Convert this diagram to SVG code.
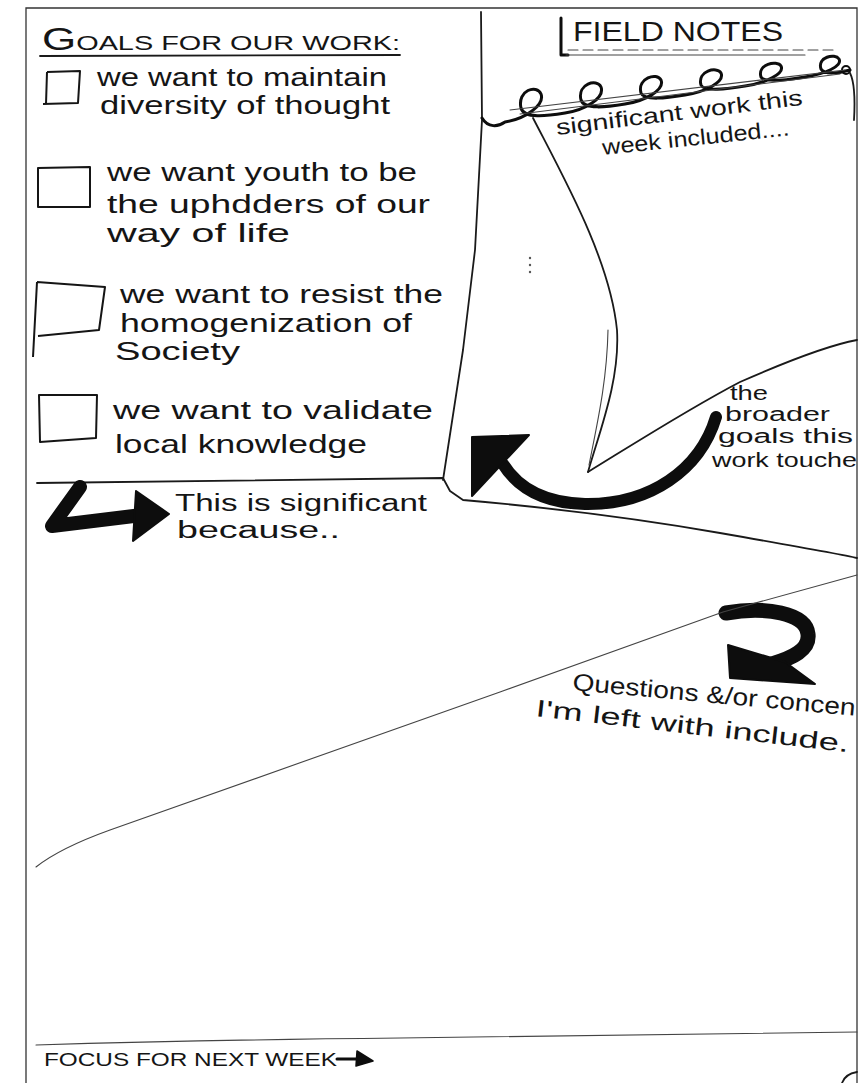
<svg xmlns="http://www.w3.org/2000/svg" width="862" height="1083" viewBox="0 0 862 1083">
<style>
  .hand { font-family: "Liberation Sans", "DejaVu Sans", sans-serif; fill: #151515; }
  .line { fill: none; stroke: #1a1a1a; stroke-width: 1.8; stroke-linecap: round; stroke-linejoin: round; }
  .thin { fill: none; stroke: #444; stroke-width: 1.1; stroke-linecap: round; }
  .frame { fill: none; stroke: #333; stroke-width: 1.3; }
  .ink { fill: #0d0d0d; stroke: #0d0d0d; stroke-linejoin: round; }
  .fat { fill: none; stroke: #0d0d0d; stroke-linecap: round; stroke-linejoin: round; }
  .box { fill: none; stroke: #151515; stroke-width: 2; stroke-linejoin: round; }
</style>
<rect width="862" height="1083" fill="#ffffff"/>

<!-- page frame -->
<path class="frame" d="M26,1083 L26,8 L857,8 L857,1083"/>

<g id="goals">
  <text class="hand" x="42" y="50" font-size="21" textLength="358" lengthAdjust="spacingAndGlyphs"><tspan font-size="32">G</tspan>OALS FOR OUR WORK:</text>
  <path class="line" d="M40,56 L400,55"/>
  <path class="box" d="M47,72 L80,71 L78,103 L43,104 M47,72 L46,104"/>
  <text class="hand" x="97" y="86" font-size="26" textLength="290" lengthAdjust="spacingAndGlyphs">we want to maintain</text>
  <text class="hand" x="100" y="114" font-size="26" textLength="290" lengthAdjust="spacingAndGlyphs">diversity of thought</text>
  <path class="box" d="M38,168 L90,167 L90,207 L38,207 Z"/>
  <text class="hand" x="107" y="181" font-size="26" textLength="310" lengthAdjust="spacingAndGlyphs">we want youth to be</text>
  <text class="hand" x="107" y="213" font-size="26" textLength="323" lengthAdjust="spacingAndGlyphs">the uphdders of our</text>
  <text class="hand" x="107" y="242" font-size="26" textLength="183" lengthAdjust="spacingAndGlyphs">way of life</text>
  <path class="box" d="M37,282 L105,287 L99,330 L38,336 M37,282 L33,357"/>
  <text class="hand" x="120" y="303" font-size="26" textLength="323" lengthAdjust="spacingAndGlyphs">we want to resist the</text>
  <text class="hand" x="120" y="332" font-size="26" textLength="292" lengthAdjust="spacingAndGlyphs">homogenization of</text>
  <text class="hand" x="115" y="360" font-size="26" textLength="125" lengthAdjust="spacingAndGlyphs">Society</text>
  <path class="box" d="M39,395 L97,395 L96,438 L40,442 Z"/>
  <text class="hand" x="113" y="419" font-size="26" textLength="320" lengthAdjust="spacingAndGlyphs">we want to validate</text>
  <text class="hand" x="115" y="453" font-size="26" textLength="252" lengthAdjust="spacingAndGlyphs">local knowledge</text>
</g>

<g id="field-notes">
  <text class="hand" x="573" y="41" font-size="28" textLength="210" lengthAdjust="spacingAndGlyphs">FIELD NOTES</text>
  <path class="fat" stroke-width="3" d="M561,18 L561,55 L568,55"/>
  <path class="thin" stroke-width="1.6" stroke-dasharray="10 5" d="M568,50 L835,50"/>
  <path class="thin" d="M566,55 L805,55"/>
</g>

<g id="significant-work">
  <text class="hand" x="557" y="135" font-size="22" textLength="248" lengthAdjust="spacingAndGlyphs" transform="rotate(-7 557 135)">significant work this</text>
  <text class="hand" x="603" y="155" font-size="22" textLength="188" lengthAdjust="spacingAndGlyphs" transform="rotate(-6 603 155)">week included....</text>
</g>

<g id="broader-goals">
  <text class="hand" x="730" y="400" font-size="20" textLength="38" lengthAdjust="spacingAndGlyphs">the</text>
  <text class="hand" x="725" y="421" font-size="20" textLength="105" lengthAdjust="spacingAndGlyphs">broader</text>
  <text class="hand" x="718" y="443" font-size="20" textLength="135" lengthAdjust="spacingAndGlyphs">goals this</text>
  <text class="hand" x="712" y="467" font-size="20" textLength="145" lengthAdjust="spacingAndGlyphs">work touche</text>
</g>

<g id="significance">
  <text class="hand" x="175" y="511" font-size="23" textLength="252" lengthAdjust="spacingAndGlyphs">This is significant</text>
  <text class="hand" x="177" y="538" font-size="23" textLength="163" lengthAdjust="spacingAndGlyphs">because..</text>
</g>

<g id="questions">
  <text class="hand" x="572" y="690" font-size="24" textLength="284" lengthAdjust="spacingAndGlyphs" transform="rotate(5.2 572 690)">Questions &amp;/or concen</text>
  <text class="hand" x="535" y="716" font-size="24" textLength="315" lengthAdjust="spacingAndGlyphs" transform="rotate(6.6 535 716)">I'm left with include.</text>
</g>

<g id="focus">
  <text class="hand" x="44" y="1066" font-size="19" textLength="293" lengthAdjust="spacingAndGlyphs">FOCUS FOR NEXT WEEK</text>
</g>

<g id="connectors">
  <!-- goals box right edge and bottom -->
  <path class="line" d="M481,12 L482,120 L475,250 L463,350 L443,480"/>
  <path class="line" d="M37,483 L443,478 L450,491 L463,500 Q600,512 720,533 T857,558"/>
  <!-- cursive loops under field notes -->
  <path class="fat" stroke-width="3" d="M482,118 C488,128 498,127 505,122 C525,119 545,105 541,94 C537,84 517,90 521,108 C524,119 547,116 565,113 C585,110 605,98 601,87 C597,78 577,84 581,100 C584,110 607,107 625,104 C645,101 665,90 661,80 C657,72 637,78 641,93 C644,101 667,98 685,95 C705,92 725,82 721,73 C717,66 697,71 701,85 C704,92 727,89 745,86 C765,83 785,74 781,66 C777,60 757,64 761,77 C764,83 787,80 805,77 C825,74 843,66 839,59 C835,53 817,57 821,69 C824,75 840,73 850,70"/>
  <circle cx="846" cy="70" r="4" fill="none" stroke="#0d0d0d" stroke-width="2"/>
  <path class="thin" d="M510,110 L845,70"/>
  <path class="thin" d="M520,114 L840,74"/>
  <path class="line" d="M850,73 Q856,85 854,120"/>
  <!-- funnel -->
  <path class="line" d="M533,118 C565,180 610,260 617,330 C620,380 600,430 588,472"/>
  <path class="thin" d="M608,330 C607,380 598,420 589,465"/>
  <path class="line" d="M588,472 C640,440 690,408 740,382 C790,360 830,345 857,340"/>
  <!-- dots -->
  <circle cx="530" cy="258" r="1.2" fill="#555"/>
  <circle cx="530" cy="265" r="1.2" fill="#555"/>
  <circle cx="530" cy="272" r="1.2" fill="#555"/>
  <!-- big curved arrow -->
  <path class="fat" stroke-width="12" d="M716,417 C700,470 650,505 585,504 C545,503 518,488 503,464"/>
  <polygon class="ink" stroke-width="2" points="472,437 529,435 472,496"/>
  <!-- L arrow -->
  <path class="fat" stroke-width="14" d="M80,487 L52,526 L142,515"/>
  <polygon class="ink" stroke-width="2" points="136,491 169,514 133,541"/>
  <!-- questions hook arrow -->
  <path class="fat" stroke-width="15" d="M726,613 C765,606 806,613 808,634 C810,650 792,658 772,664"/>
  <polygon class="ink" stroke-width="2" points="728,645 730,678 815,684 785,662"/>
  <!-- diagonal line -->
  <path class="thin" stroke-width="1.3" d="M857,575 L723,612 L500,692 L110,830 Q60,848 36,867"/>
  <!-- bottom line -->
  <path class="thin" stroke-width="1.5" d="M36,1045 Q200,1040 400,1038 T857,1032"/>
  <!-- focus arrow -->
  <path class="fat" stroke-width="3" d="M337,1059 L360,1059"/>
  <polygon class="ink" stroke-width="1.5" points="357,1051 373,1061 356,1066"/>
  <!-- corner fragment -->
  <path class="line" d="M857,1072 Q845,1074 842,1083"/>
</g>
</svg>
